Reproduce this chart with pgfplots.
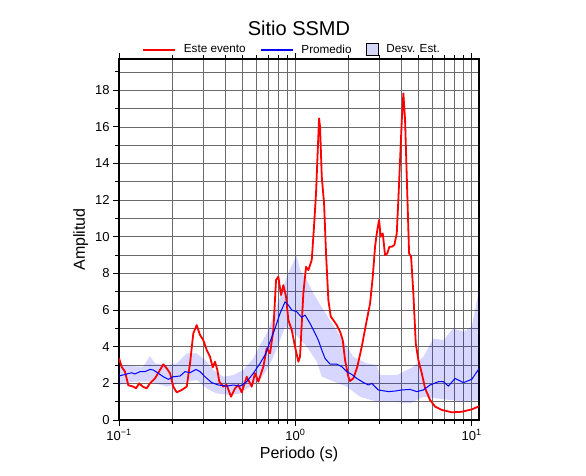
\documentclass[border=0pt]{standalone}
\usepackage{fontspec}
\setmainfont{Liberation Sans}
\usepackage{pgfplots}
\pgfplotsset{compat=1.18}
\definecolor{bandcol}{RGB}{214,214,248}
\pgfplotsset{
  redleg/.style={legend image code/.code={\draw[red, line width=1.8pt] (0pt,0pt) -- (32pt,0pt);}},
  blueleg/.style={legend image code/.code={\draw[blue, line width=1.8pt] (0pt,0pt) -- (32pt,0pt);}},
  boxleg/.style={legend image code/.code={\draw[fill=bandcol, draw=black, line width=0.8pt] (0pt,-5.8pt) rectangle (12pt,5.8pt);}},
}
\begin{document}
\begin{tikzpicture}
\path[use as bounding box] (-119pt,-55pt) rectangle (467pt,420pt);
\begin{axis}[
  at={(0pt,0pt)}, anchor=south west,
  scale only axis, width=360pt, height=361pt,
  xmode=log, xmin=0.1, xmax=11, ymin=0, ymax=19.7,
  xtick={0.1,1,10},
  xticklabels={10\textsuperscript{−1},10\textsuperscript{0},10\textsuperscript{1}},
  ytick={0,2,...,18}, minor ytick={1,3,...,19},
  grid=both,
  major grid style={black!58, line width=0.6pt},
  minor grid style={black!58, line width=0.6pt},
  tick align=outside, ytick pos=left,
  major tick length=6pt, minor tick length=4pt,
  every tick/.append style={black, line width=0.8pt},
  axis line style={line width=1.6pt},
  /pgf/number format/assume math mode=true,
  tick label style={font=\fontsize{13}{16}\selectfont},
  label style={font=\fontsize{16}{19}\selectfont},
  xlabel={Periodo (s)}, ylabel={Amplitud},
  title={Sitio SSMD},
  title style={font=\fontsize{20}{24}\selectfont, anchor=base, at={(0.5,1)}, yshift=18pt},
  legend columns=3,
  legend style={draw=none, fill=none, at={(0.5,1)}, anchor=south, xshift=-8pt, yshift=3pt,
    inner sep=0pt, nodes={inner sep=0pt},
    font=\fontsize{11.7}{14}\selectfont,
    /tikz/every odd column/.append style={column sep=8pt},
    /tikz/every even column/.append style={column sep=14pt},
    /tikz/column 4/.append style={column sep=19pt},
    /tikz/column 5/.append style={column sep=12.5pt}},
]
\addplot[fill=blue, fill opacity=0.16, draw=none, forget plot] coordinates {
(0.1,3.0) (0.1368,2.9) (0.1499,3.49) (0.1600,3.09) (0.1865,3.0) (0.2125,3.09)
(0.2421,3.64) (0.2759,3.64) (0.3075,3.27) (0.3426,2.73) (0.3904,2.36) (0.4449,2.45)
(0.5070,2.73) (0.5777,3.36) (0.6306,4.09) (0.6884,4.73) (0.7505,5.64) (0.8192,6.73)
(0.8937,7.82) (1.018,9.0) (1.063,8.18) (1.161,7.64) (1.265,6.91) (1.381,6.3)
(1.573,5.45) (1.754,4.73) (1.914,4.18) (2.133,3.45) (2.541,3.09) (2.895,3.0)
(3.022,2.45) (3.759,2.45) (4.669,2.91) (5.321,3.45) (6.064,4.45) (6.910,4.36)
(7.876,5.0) (8.973,4.82) (10.01,5.09) (11.0,7.1)
(11.0,1.09) (8.973,1.0) (7.543,1.09) (6.339,1.18) (5.321,1.27) (4.473,0.91)
(3.596,1.0) (2.895,1.0) (2.328,1.27) (1.956,1.82) (1.573,2.18) (1.412,2.36)
(1.322,3.2) (1.161,4.0) (1.018,4.6) (0.9331,4.91) (0.8741,5.09) (0.8192,4.36)
(0.7505,3.45) (0.6884,2.73) (0.6306,2.18) (0.5534,1.82) (0.4858,1.45) (0.4262,1.36)
(0.3583,1.45) (0.3144,1.73) (0.2759,2.18) (0.2218,2.0) (0.1865,1.82) (0.1499,2.09)
(0.1205,2.09) (0.1,1.91)
};
\addplot[red, line width=1.8pt, line join=round, redleg] coordinates {
(0.1,3.37) (0.1036,2.9) (0.1081,2.64) (0.1129,1.9) (0.1205,1.82) (0.1249,1.73)
(0.1303,2.0) (0.1363,1.82) (0.1436,1.73) (0.1499,2.0) (0.1600,2.27) (0.1708,2.73)
(0.1784,3.04) (0.1865,2.82) (0.1947,2.55) (0.2032,1.82) (0.2125,1.51) (0.2269,1.64)
(0.2421,1.82) (0.2528,3.09) (0.2639,4.73) (0.2759,5.18) (0.2880,4.64) (0.3007,4.36)
(0.3144,3.82) (0.3282,3.45) (0.3400,2.87) (0.3504,3.18) (0.3611,2.73) (0.3706,2.09)
(0.3904,1.82) (0.4081,1.91) (0.4317,1.27) (0.4550,1.73) (0.4750,1.91) (0.4966,1.51)
(0.5301,2.36) (0.5658,1.82) (0.5907,2.55) (0.6168,2.09) (0.6585,2.91) (0.6884,3.91)
(0.7188,3.64) (0.7505,4.91) (0.7772,7.64) (0.8008,7.82) (0.8295,6.82) (0.8548,7.36)
(0.8855,6.73) (0.9127,5.45) (0.9541,4.91) (0.996,4.0) (1.040,3.18) (1.063,3.45)
(1.110,6.91) (1.150,8.36) (1.185,8.18) (1.239,8.73) (1.276,10.55) (1.310,12.36)
(1.333,14.18) (1.363,16.46) (1.381,16.0) (1.412,13.27) (1.455,11.82) (1.493,9.09)
(1.539,6.55) (1.588,5.64) (1.643,5.45) (1.718,5.18) (1.793,4.82) (1.857,4.36)
(1.914,3.27) (1.998,2.36) (2.043,2.13) (2.133,2.27) (2.247,2.91) (2.380,4.0)
(2.541,5.45) (2.653,6.36) (2.748,7.82) (2.831,9.45) (2.895,10.18) (2.983,10.91)
(3.050,10.0) (3.131,10.18) (3.226,9.0) (3.324,9.09) (3.412,9.45) (3.522,9.45)
(3.643,9.55) (3.759,10.18) (3.838,12.0) (3.926,14.18) (4.014,16.36) (4.098,17.82)
(4.190,16.36) (4.284,13.27) (4.415,9.09) (4.531,8.91) (4.669,6.91) (4.818,4.18)
(4.984,3.27) (5.211,2.55) (5.440,1.73) (5.808,1.09) (6.200,0.73) (6.768,0.55)
(7.713,0.42) (8.788,0.45) (10.01,0.58) (11.0,0.75)
};
\addlegendentry{Este evento}
\addplot[blue, line width=1.0pt, line join=round, blueleg] coordinates {
(0.1,2.4) (0.1106,2.51) (0.1180,2.58) (0.1232,2.51) (0.1315,2.64) (0.1404,2.64)
(0.1499,2.76) (0.1565,2.73) (0.1671,2.55) (0.1784,2.36) (0.1904,2.22) (0.2032,2.36)
(0.2218,2.4) (0.2368,2.64) (0.2528,2.58) (0.2734,2.76) (0.2880,2.64) (0.3075,2.36)
(0.3356,2.04) (0.3658,1.91) (0.4081,1.85) (0.4449,1.91) (0.4858,1.85) (0.5301,2.09)
(0.5777,2.55) (0.6306,3.09) (0.6733,3.55) (0.7188,4.27) (0.7672,5.0) (0.8192,5.82)
(0.8741,6.45) (0.9127,6.27) (0.9541,6.0) (1.018,5.91) (1.087,5.6) (1.135,5.73)
(1.212,5.27) (1.293,4.73) (1.350,4.36) (1.412,3.82) (1.474,3.36) (1.573,3.05)
(1.718,3.05) (1.833,2.91) (1.956,2.64) (2.089,2.49) (2.230,2.27) (2.431,2.05)
(2.594,1.91) (2.713,2.0) (2.956,1.64) (3.369,1.55) (3.678,1.58) (4.014,1.64)
(4.473,1.67) (4.882,1.55) (5.321,1.64) (5.808,1.91) (6.474,2.09) (6.910,2.09)
(7.377,1.85) (8.050,2.27) (8.973,2.04) (10.01,2.22) (11.0,2.8)
};
\addlegendentry{Promedio}
\addlegendimage{boxleg}
\addlegendentry{Desv. Est.}
\end{axis}
\end{tikzpicture}
\end{document}
